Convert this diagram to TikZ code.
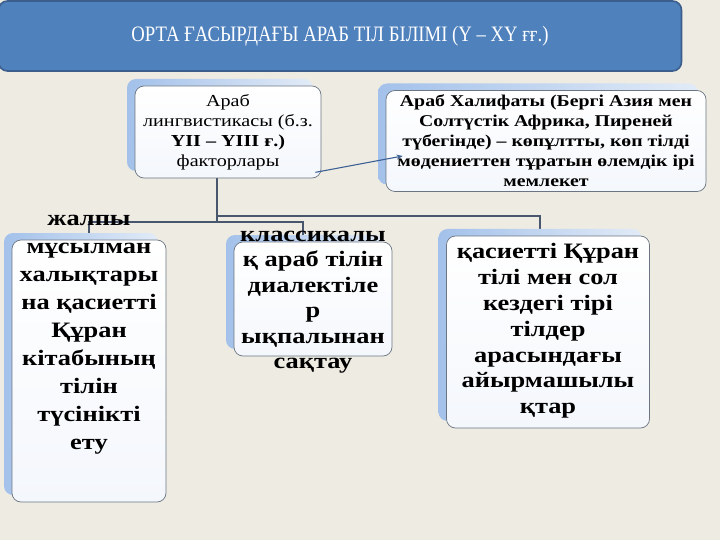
\documentclass[tikz,border=0pt]{standalone}
\usepackage{fontspec}
\setmainfont{Liberation Serif}
\newfontfamily\boxfont[FakeStretch=1.2]{Liberation Serif}
\newfontfamily\titlefont[FakeStretch=0.85]{Liberation Serif}
\usetikzlibrary{shadows,arrows.meta,backgrounds}

\definecolor{bgcream}{HTML}{EEEBE3}
\definecolor{titleblue}{HTML}{4F81BD}
\definecolor{titleedge}{HTML}{3B5E8C}
\definecolor{shadeblue}{HTML}{A3C1EA}
\definecolor{shadelight}{HTML}{E2EBF7}
\definecolor{boxedge}{HTML}{6B7682}
\definecolor{boxfill}{HTML}{F4F7FC}
\definecolor{linkgray}{HTML}{48566E}
\definecolor{arrowblue}{HTML}{3E6195}

\tikzset{
  headbox/.style={draw=titleedge, line width=1.6pt, fill=titleblue, rounded corners=9pt,
    text=white, font=\titlefont\fontsize{22}{24}\selectfont},
  factbox/.style={draw=boxedge, line width=0.7pt, rounded corners=9pt,
    top color=white, bottom color=boxfill,
    general shadow={shadow xshift=-8pt, shadow yshift=7pt, left color=shadeblue,
      middle color=shadelight, right color=shadelight}},
  smalltext/.style={align=center, font=\boxfont\fontsize{16.8}{20}\selectfont},
  bigtext/.style={align=center, font=\boxfont\bfseries\fontsize{22}{28}\selectfont},
  link/.style={draw=linkgray, line width=1.8pt},
  arrowlink/.style={draw=arrowblue, line width=1.1pt, -{Stealth[length=6pt,width=5pt]}}
}

\begin{document}
\begin{tikzpicture}[x=1pt, y=-1pt]
  \useasboundingbox (0,0) rectangle (720,540);

  \node[headbox, minimum width=683pt, minimum height=70pt] (head) at (340,36)
    {ОРТА ҒАСЫРДАҒЫ АРАБ ТІЛ БІЛІМІ (Ү – ХҮ ғғ.)};

  \node[factbox, smalltext, minimum width=186pt, minimum height=92pt] (ling) at (228,132)
    {Араб\\лингвистикасы (б.з.\\\textbf{ҮІІ – ҮІІІ ғ.)}\\факторлары};
  \node[factbox, smalltext, font=\boxfont\bfseries\fontsize{16.5}{20}\selectfont,
    minimum width=320pt, minimum height=101pt] (khalif) at (546,141)
    {Араб Халифаты (Бергі Азия мен\\Солтүстік Африка, Пиреней\\түбегінде) – көпұлтты, көп тілді\\мөдениеттен тұратын өлемдік ірі\\мемлекет};

  \node[factbox, minimum width=154pt, minimum height=262pt] (lowA) at (89,371) {};
  \node[factbox, minimum width=158pt, minimum height=114pt] (lowB) at (313,299) {};
  \node[factbox, minimum width=203pt, minimum height=192pt] (lowC) at (548,332) {};

  \node[bigtext] (lowAtext) at (89,335)
    {жалпы\\мұсылман\\халықтары\\на қасиетті\\Құран\\кітабының\\тілін\\түсінікті\\ету};
  \node[bigtext, font=\boxfont\bfseries\fontsize{22}{25.5}\selectfont] (lowBtext) at (313,302)
    {классикалы\\қ араб тілін\\диалектіле\\р\\ықпалынан\\сақтау};
  \node[bigtext, font=\boxfont\bfseries\fontsize{22}{25.8}\selectfont] (lowCtext) at (548,331)
    {қасиетті Құран\\тілі мен сол\\кездегі тірі\\тілдер\\арасындағы\\айырмашылы\\қтар};

  % connectors sit under the boxes
  \begin{scope}[on background layer]
    \fill[bgcream] (0,0) rectangle (720,540);
    \draw[link] ([xshift=-11pt]ling.south) |- ([yshift=18pt]lowA.north) -- (lowA.north);
    \draw[link] ([xshift=-11pt]ling.south) |- ([xshift=-10pt,yshift=20pt]lowB.north) -- ([xshift=-10pt]lowB.north);
    \draw[link] ([xshift=-11pt]ling.south) |- ([xshift=-8pt,yshift=20pt]lowC.north) -- ([xshift=-8pt]lowC.north);
  \end{scope}

  \draw[arrowlink] ([xshift=-6pt,yshift=6pt]ling.south east) -- ([xshift=17pt,yshift=-15pt]khalif.west);
\end{tikzpicture}
\end{document}
